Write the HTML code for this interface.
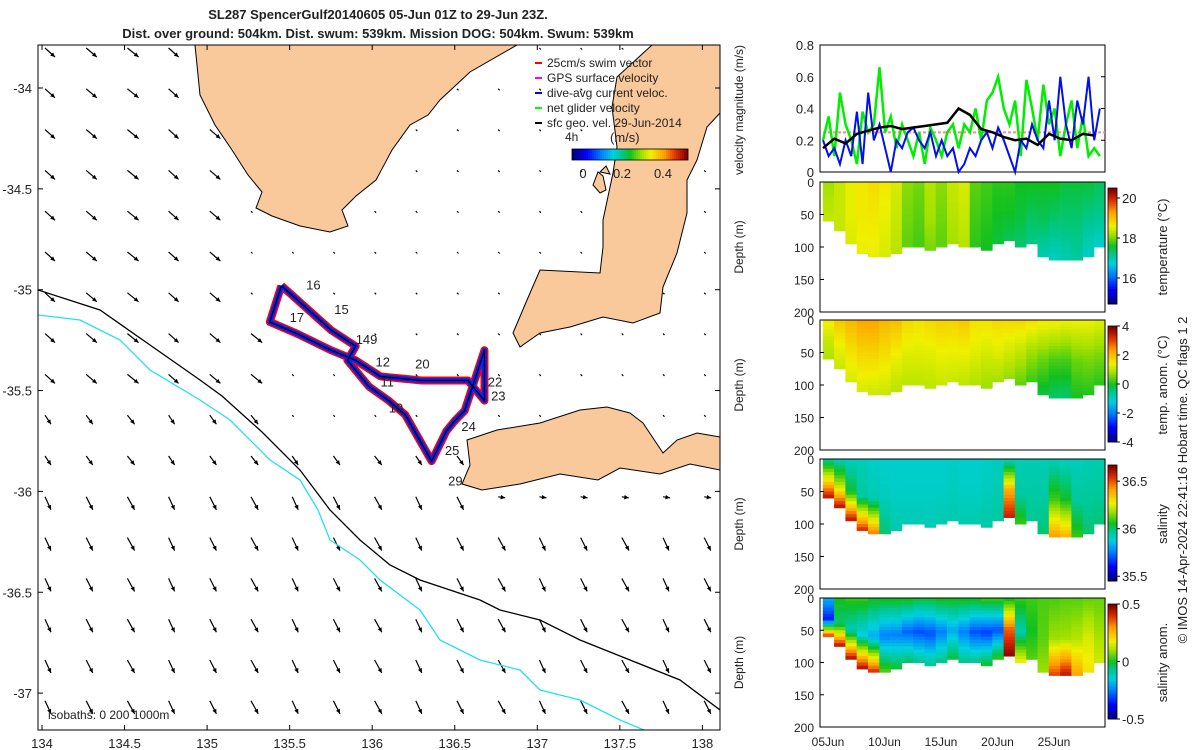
<!DOCTYPE html>
<html><head><meta charset="utf-8">
<style>
html,body{margin:0;padding:0;background:#fff;}
svg{display:block;font-family:"Liberation Sans",sans-serif;}
text{fill:#222;}
</style></head>
<body>
<svg id="fig" width="1200" height="750" viewBox="0 0 1200 750" xmlns="http://www.w3.org/2000/svg">
<text x="378" y="19" font-size="13" font-weight="bold" text-anchor="middle">SL287 SpencerGulf20140605 05-Jun 01Z to 29-Jun 23Z.</text>
<text x="378" y="38" font-size="13" font-weight="bold" text-anchor="middle">Dist. over ground: 504km. Dist. swum: 539km. Mission DOG: 504km. Swum: 539km</text>
<g id="map"></g>
<g id="right"></g>
<text transform="translate(1187,480) rotate(-90)" font-size="13" text-anchor="middle">© IMOS 14-Apr-2024 22:41:16 Hobart time. QC flags 1  2</text>
</svg>
<script>
// ---------- data ----------
const lonTicks=[134,134.5,135,135.5,136,136.5,137,137.5,138];
const latTicks=[-34,-34.5,-35,-35.5,-36,-36.5,-37];
const trackLon=[135.45,135.38,135.55,135.75,135.9,136.05,136.3,136.58,136.68,136.68,136.56,136.5,136.45,136.36,136.2,136.1,135.98,135.85,135.9,135.75,135.45];
const trackLat=[-34.98,-35.16,-35.22,-35.3,-35.35,-35.43,-35.45,-35.45,-35.55,-35.3,-35.6,-35.65,-35.7,-35.85,-35.62,-35.55,-35.48,-35.35,-35.28,-35.2,-34.98];
const dayLabels=["16","17","15","149","12","11","20","22","23","10","24","25","29"];
const dayLon=[135.6,135.5,135.77,135.9,136.02,136.05,136.26,136.7,136.72,136.1,136.54,136.44,136.46];
const dayLat=[-35.0,-35.16,-35.12,-35.27,-35.38,-35.48,-35.39,-35.48,-35.55,-35.61,-35.7,-35.82,-35.97];
const velTicks=[0,0.2,0.4,0.6,0.8];
const greenVel=[0.2,0.35,0.1,0.5,0.3,0.2,0.05,0.38,0.25,0.3,0.66,0.25,0.35,0.15,0.3,0.2,0.1,0.25,0.05,0.28,0.2,0.1,0.25,0.3,0.15,0.3,0.25,0.4,0.2,0.45,0.5,0.6,0.4,0.3,0.45,0.1,0.58,0.4,0.2,0.55,0.3,0.4,0.1,0.3,0.45,0.15,0.35,0.1,0.15,0.1];
const blueVel=[0.2,0.1,0.15,0.05,0.2,0.1,0.38,0.05,0.5,0.2,0.3,0.15,0.0,0.2,0.15,0.25,0.28,0.2,0.15,0.25,0.1,0.2,0.1,0.15,0.0,0.05,0.15,0.1,0.2,0.25,0.15,0.28,0.2,0.1,0.0,0.2,0.15,0.3,0.2,0.15,0.45,0.2,0.6,0.3,0.15,0.45,0.3,0.6,0.2,0.4];
const blackVel=[0.15,0.21,0.18,0.24,0.26,0.28,0.29,0.27,0.28,0.29,0.3,0.31,0.4,0.36,0.27,0.25,0.22,0.2,0.21,0.17,0.24,0.21,0.2,0.24,0.23];
const swimRef=0.25;
const dateTicks=["05Jun","10Jun","15Jun","20Jun","25Jun"];
const dateTickDays=[0,5,10,15,20];
const depthTicks=[0,50,100,150,200];
const maxDepth=[60,75,95,110,115,112,108,100,100,105,100,95,100,100,102,95,90,100,95,115,120,118,120,112,100];
const tempSurf=[18.2,18.4,18.6,18.7,18.8,18.7,18.5,18.1,18.0,18.3,18.1,18.4,18.5,17.9,17.8,17.7,17.7,17.6,17.6,17.6,17.6,17.5,17.5,17.5,17.4];
const tempMid=[18.3,18.4,18.6,18.7,18.7,18.6,18.4,18.0,17.9,18.2,18.0,18.3,18.4,17.8,17.7,17.6,17.6,17.5,17.4,17.4,17.3,17.3,17.3,17.2,17.2];
const tempBot=[18.4,18.4,18.5,18.6,18.6,18.5,18.3,17.9,17.8,18.0,17.9,18.2,18.3,17.7,17.6,17.5,17.4,17.3,17.2,17.0,16.9,17.0,17.1,16.9,16.8];
const taSurf=[1.5,1.9,2.1,2.3,2.3,2.1,2.0,1.7,1.6,1.7,1.8,1.8,1.9,1.6,1.6,1.7,1.7,1.7,1.6,1.5,1.5,1.4,1.4,1.4,1.3];
const taMid=[1.1,1.4,1.6,1.7,1.7,1.6,1.4,1.3,1.3,1.3,1.4,1.4,1.4,1.3,1.2,1.3,1.2,1.0,0.8,0.5,0.3,0.3,0.5,0.6,0.6];
const taBot=[0.9,1.1,1.2,1.2,1.1,1.1,1.0,1.0,1.0,1.0,1.1,1.1,1.0,0.9,0.8,0.8,0.7,0.4,0.2,-0.2,-0.4,-0.4,0.0,0.1,0.1];
const salSurf=[35.98,35.94,35.92,35.92,35.91,35.9,35.9,35.9,35.9,35.9,35.9,35.91,35.9,35.9,35.91,35.92,35.93,35.93,35.93,35.93,35.93,35.92,35.92,35.93,35.94];
const salMid=[36.3,36.2,36.05,35.96,35.93,35.92,35.91,35.91,35.91,35.91,35.91,35.92,35.91,35.91,35.92,35.93,36.4,35.95,35.95,35.95,36.1,36.05,35.96,35.96,35.96];
const salBot=[36.65,36.65,36.65,36.6,36.5,36.0,35.94,35.93,35.93,35.93,35.94,35.94,35.94,35.94,35.95,35.96,36.6,36.1,35.97,36.0,36.45,36.4,36.1,36.0,36.0];
const saSurf=[-0.2,0.0,0.02,0.02,0.0,0.0,0.0,0.0,-0.02,-0.02,0.0,0.0,0.0,0.0,0.02,0.02,0.0,0.02,0.03,0.04,0.04,0.05,0.05,0.06,0.06];
const saMid=[-0.35,-0.05,-0.1,-0.15,-0.2,-0.25,-0.25,-0.28,-0.3,-0.3,-0.25,-0.2,-0.25,-0.3,-0.32,-0.3,0.35,-0.1,0.0,0.05,0.1,0.1,0.12,0.15,0.1];
const saBot=[0.5,0.5,0.5,0.5,0.45,0.05,0.0,-0.02,-0.05,-0.05,-0.05,0.0,-0.05,-0.05,0.0,0.05,0.5,0.2,0.05,0.1,0.4,0.45,0.3,0.2,0.15];

// ---------- helpers ----------
const NS="http://www.w3.org/2000/svg";
function mk(parent,tag,attrs,txt){const e=document.createElementNS(NS,tag);for(const k in attrs)e.setAttribute(k,attrs[k]);if(txt!==undefined)e.textContent=txt;parent.appendChild(e);return e;}
const stops=[[0,[0,0,127]],[0.12,[0,0,255]],[0.25,[0,128,255]],[0.35,[0,208,224]],[0.43,[0,200,144]],[0.5,[16,192,32]],[0.6,[160,224,0]],[0.68,[240,240,0]],[0.8,[255,160,0]],[0.9,[224,48,0]],[1,[128,0,0]]];
function cmap(t){t=Math.max(0,Math.min(1,t));for(let i=1;i<stops.length;i++){if(t<=stops[i][0]){const a=stops[i-1],b=stops[i];const f=(t-a[0])/(b[0]-a[0]);const c=a[1].map((v,j)=>Math.round(v+(b[1][j]-v)*f));return `rgb(${c})`;}}return 'rgb(128,0,0)';}

// ---------- map ----------
const map=document.getElementById('map');
const MX0=38,MX1=720,MY0=45,MY1=730;
const lx=lon=>42+(lon-134)*165.1;
const ly=lat=>88+(-34-lat)*201.7;
mk(map,'defs',{}).innerHTML='<clipPath id="mclip"><rect x="38" y="45" width="682" height="685"/></clipPath>';
const mg=mk(map,'g',{'clip-path':'url(#mclip)'});
for(let r=0;r<18;r++)for(let c=0;c<17;c++){
  const x=45+c*41.2,y=48+r*40.8;
  let dx,dy;
  if(x>225&&y<420&&!(x<260&&y>300)){dx=1.5;dy=1.5;}
  else if(x>470&&y<520){dx=7;dy=1;}
  else {dx=8+(r>8?-2:2)+(c%3)*0.6; dy=9+(r>10?4:0);}
  const a=mk(mg,'line',{x1:x,y1:y,x2:x+dx,y2:y+dy,stroke:'#000','stroke-width':1.2});
  
  
  if(dx>3){
  const ang=Math.atan2(dy,dx);
  const h=mk(mg,'polygon',{points:`${x+dx},${y+dy} ${x+dx-5*Math.cos(ang-0.45)},${y+dy-5*Math.sin(ang-0.45)} ${x+dx-5*Math.cos(ang+0.45)},${y+dy-5*Math.sin(ang+0.45)}`,fill:'#000'});
  
  
  }
}
const land=[
 "195,45 517,45 470,72 440,100 428,115 410,125 392,150 376,180 356,196 342,210 348,226 330,232 300,226 272,216 256,208 262,192 248,175 232,150 215,125 200,95",
 "652,45 720,45 720,113 707,127 697,160 687,180 687,213 677,253 663,287 660,313 633,323 603,317 570,327 540,333 520,347 513,333 527,300 540,270 600,273 603,247 603,220 613,173 617,147 612,107 617,77",
 "467,440 497,430 540,423 580,410 607,407 630,413 643,423 663,453 677,440 697,433 720,437 720,470 690,464 660,474 620,468 598,480 560,474 520,484 482,490 462,484 470,465",
 "593,185 598,172 603,176 606,190 600,193","600,172 606,166 610,174"
];
land.forEach(p=>{const e=mk(mg,'polygon',{points:p,fill:'#f9c89b',stroke:'#000','stroke-width':1});});
const iso200="38,290 100,310 150,345 200,380 222,396 262,432 300,470 330,510 360,540 390,565 420,580 450,590 480,600 500,610 540,620 580,640 630,660 680,680 720,710";
const iso1000="38,315 80,320 120,340 150,370 200,400 230,420 270,460 300,480 318,510 330,540 360,560 380,580 420,610 440,640 480,660 520,670 540,690 580,700 620,720 680,745";
let e=mk(mg,'polyline',{points:iso200,fill:'none',stroke:'#000','stroke-width':1.3});
e=mk(mg,'polyline',{points:iso1000,fill:'none',stroke:'#22e0f0','stroke-width':1.3});
const tpts=trackLon.map((v,i)=>`${lx(v)},${ly(trackLat[i])}`).join(' ');
[['#f00',8,'swim-vector-band'],['#0022ff',5,'current-vector-band'],['#000',1.3,'glider-track']].forEach(([c,w,n])=>{const t=mk(mg,'polyline',{points:tpts,fill:'none',stroke:c,'stroke-width':w,'stroke-linejoin':'round'});});
dayLabels.forEach((l,i)=>{const t=mk(mg,'text',{x:lx(dayLon[i]),y:ly(dayLat[i]),'font-size':13},l);});
e=mk(map,'rect',{x:MX0,y:MY0,width:MX1-MX0,height:MY1-MY0,fill:'none',stroke:'#000','stroke-width':1});
lonTicks.forEach(v=>{const x=lx(v);mk(map,'line',{x1:x,y1:MY1,x2:x,y2:MY1-5,stroke:'#000'});mk(map,'line',{x1:x,y1:MY0,x2:x,y2:MY0+5,stroke:'#000'});const t=mk(map,'text',{x:x,y:748,'font-size':13,'text-anchor':'middle'},String(v));});
latTicks.forEach(v=>{const y=ly(v);mk(map,'line',{x1:MX0,y1:y,x2:MX0+5,y2:y,stroke:'#000'});mk(map,'line',{x1:MX1,y1:y,x2:MX1-5,y2:y,stroke:'#000'});const t=mk(map,'text',{x:32,y:y+5,'font-size':13,'text-anchor':'end'},String(v));});
e=mk(map,'text',{x:48,y:719,'font-size':12},'isobaths: 0   200  1000m');
const leg=[['#f00','25cm/s swim vector'],['#f0f','GPS surface velocity'],['#00f','dive-avg current veloc.'],['#0f0','net glider velocity'],['#000','sfc geo. vel. 29-Jun-2014']];
leg.forEach(([c,l],i)=>{const y=63+i*15;const ln=mk(map,'line',{x1:535,y1:y,x2:542,y2:y,stroke:c,'stroke-width':2});const t=mk(map,'text',{x:547,y:y+4,'font-size':12},l);});
e=mk(map,'text',{x:565,y:141,'font-size':12},'4h');
e=mk(map,'text',{x:610,y:142,'font-size':13},'(m/s)');
for(let i=0;i<58;i++){mk(map,'rect',{x:572+i*2,y:149,width:2.2,height:11,fill:cmap(i/57)});}
e=mk(map,'rect',{x:572,y:149,width:116,height:11,fill:'none',stroke:'#000','stroke-width':0.8});
[['0',583],['0.2',622],['0.4',663]].forEach(([l,x])=>{const t=mk(map,'text',{x:x,y:178,'font-size':13,'text-anchor':'middle'},l);});

// ---------- right panels ----------
const R=document.getElementById('right');
const PX0=820,PX1=1105;
const tx=d=>823+d*11.3;
const vy=v=>172-v/0.8*127;
e=mk(R,'rect',{x:PX0,y:45,width:PX1-PX0,height:127,fill:'none',stroke:'#000'});
velTicks.forEach(v=>{const t=mk(R,'text',{x:814,y:vy(v)+5,'font-size':13,'text-anchor':'end'},String(v));mk(R,'line',{x1:PX1,y1:vy(v),x2:PX1-4,y2:vy(v),stroke:'#000'});});
e=mk(R,'text',{transform:'translate(743,110) rotate(-90)','font-size':12,'text-anchor':'middle'},'velocity magnitude (m/s)');
e=mk(R,'line',{x1:tx(0),y1:vy(swimRef),x2:PX1,y2:vy(swimRef),stroke:'#f88','stroke-width':2,'stroke-dasharray':'3,2'});
e=mk(R,'polyline',{points:greenVel.map((v,i)=>`${tx(i*0.5)},${vy(v)}`).join(' '),fill:'none',stroke:'#00ee00','stroke-width':2.5});
e=mk(R,'polyline',{points:blueVel.map((v,i)=>`${tx(i*0.5)},${vy(v)}`).join(' '),fill:'none',stroke:'#0010ee','stroke-width':2});
e=mk(R,'polyline',{points:blackVel.map((v,i)=>`${tx(i)},${vy(v)}`).join(' '),fill:'none',stroke:'#000','stroke-width':2.5});

const panels=[
 {y:182,h:130,s:tempSurf,m:tempMid,b:tempBot,lo:14.7,hi:20.5,ticks:[16,18,20],lab:'temperature (°C)',name:'temperature'},
 {y:320,h:130,s:taSurf,m:taMid,b:taBot,lo:-4,hi:4,ticks:[-4,-2,0,2,4],lab:'temp. anom. (°C)',name:'temp-anomaly'},
 {y:459,h:130,s:salSurf,m:salMid,b:salBot,lo:35.45,hi:36.67,ticks:[35.5,36,36.5],lab:'salinity',name:'salinity'},
 {y:598,h:129,s:saSurf,m:saMid,b:saBot,lo:-0.5,hi:0.5,ticks:[-0.5,0,0.5],lab:'salinity anom.',name:'salinity-anomaly'}
];
panels.forEach((p,pi)=>{
 const g=mk(R,'g',{});
 
 
 const dy=d=>p.y+d/200*p.h;
 const N=maxDepth.length;
 for(let i=0;i<N;i++){
  const md=maxDepth[i];
  for(let d=0;d<md;d+=5){
   const f=d/md;
   const v=f<0.5? p.s[i]+(p.m[i]-p.s[i])*f*2 : p.m[i]+(p.b[i]-p.m[i])*(f-0.5)*2;
   mk(g,'rect',{x:tx(i)-0.2,y:dy(d),width:11.6,height:p.h*5/200+0.5,fill:cmap((v-p.lo)/(p.hi-p.lo))});
  }
 }
 const fr=mk(R,'rect',{x:PX0,y:p.y,width:PX1-PX0,height:p.h,fill:'none',stroke:'#000'});
 
 
 depthTicks.forEach(d=>{const t=mk(R,'text',{x:814,y:dy(d)+5,'font-size':12,'text-anchor':'end'},String(d));mk(R,'line',{x1:PX0,y1:dy(d),x2:PX0+4,y2:dy(d),stroke:'#000'});});
 const yl=mk(R,'text',{transform:`translate(743,${p.y+p.h/2}) rotate(-90)`,'font-size':12,'text-anchor':'middle'},'Depth (m)');
 
 
 const cy0=p.y+6,cy1=p.y+p.h-8;
 for(let k=0;k<60;k++){mk(R,'rect',{x:1108,y:cy1-(k+1)*(cy1-cy0)/60,width:9,height:(cy1-cy0)/60+0.5,fill:cmap(k/59)});}
 const cb=mk(R,'rect',{x:1108,y:cy0,width:9,height:cy1-cy0,fill:'none',stroke:'#000','stroke-width':0.8});
 
 
 p.ticks.forEach(v=>{const y=cy1-(v-p.lo)/(p.hi-p.lo)*(cy1-cy0);mk(R,'line',{x1:1117,y1:y,x2:1120,y2:y,stroke:'#000'});const t=mk(R,'text',{x:1122,y:y+5,'font-size':13},String(v));});
 const cl=mk(R,'text',{transform:`translate(1167,${p.y+p.h/2}) rotate(-90)`,'font-size':13,'text-anchor':'middle'},p.lab);
 
 
});
dateTicks.forEach((l,i)=>{const x=tx(dateTickDays[i])+5;const t=mk(R,'text',{x:x,y:746,'font-size':12,'text-anchor':'middle'},l);});
</script>
</body></html>
